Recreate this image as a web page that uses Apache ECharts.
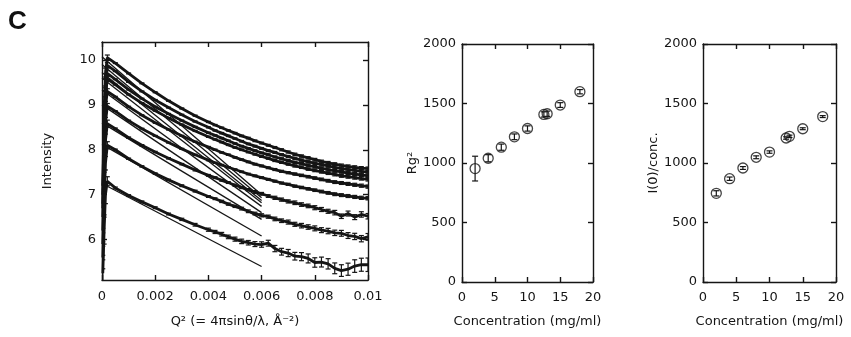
<!DOCTYPE html>
<html><head><meta charset="utf-8">
<script src="https://cdn.jsdelivr.net/npm/echarts@6/dist/echarts.min.js"></script>
<style>html,body{margin:0;padding:0;background:#fff;}#c{width:851px;height:337px;}</style>
</head><body><div id="c"></div>
<script>
// ---------- Data ----------
const qValues = [0.00003, 0.00008, 0.00013, 0.0002, 0.0005, 0.001, 0.0015, 0.002, 0.0025, 0.003, 0.0035, 0.004,
  0.00425, 0.0045, 0.00475, 0.005, 0.00525, 0.0055, 0.00575, 0.006, 0.00625, 0.0065, 0.00675, 0.007,
  0.00725, 0.0075, 0.00775, 0.008, 0.00825, 0.0085, 0.00875, 0.009, 0.00925, 0.0095, 0.00975, 0.01];

const curveC2 = [5.25, 6.2, 7.0, 7.3, 7.15, 6.98, 6.84, 6.71, 6.57, 6.45, 6.33, 6.22,
  6.17, 6.12, 6.06, 6.01, 5.96, 5.93, 5.90, 5.89, 5.92, 5.80, 5.73, 5.70, 5.63, 5.62, 5.58, 5.49, 5.50, 5.46, 5.36, 5.31, 5.34, 5.41, 5.44, 5.44];
const curveC4 = [5.6, 6.8, 7.7, 8.1, 8.0, 7.8, 7.63, 7.47, 7.33, 7.2, 7.08, 6.96,
  6.91, 6.85, 6.79, 6.74, 6.69, 6.63, 6.58, 6.54, 6.51, 6.46, 6.42, 6.39, 6.34, 6.31, 6.28, 6.25, 6.21, 6.19, 6.15, 6.14, 6.09, 6.07, 6.02, 6.06];
const curveC6 = [5.9, 7.3, 8.2, 8.58, 8.47, 8.27, 8.1, 7.95, 7.81, 7.68, 7.55, 7.43,
  7.38, 7.32, 7.27, 7.21, 7.16, 7.11, 7.06, 7.02, 6.97, 6.93, 6.89, 6.85, 6.82, 6.78, 6.75, 6.71, 6.67, 6.63, 6.6, 6.52, 6.58, 6.5, 6.56, 6.52];
const curveC8 = [6.2, 7.7, 8.6, 8.97, 8.86, 8.65, 8.47, 8.31, 8.16, 8.02, 7.89, 7.77,
  7.71, 7.66, 7.61, 7.56, 7.51, 7.46, 7.42, 7.38, 7.34, 7.30, 7.26, 7.23, 7.19, 7.16, 7.13, 7.10, 7.07, 7.04, 7.01, 6.99, 6.97, 6.95, 6.93, 6.92];
const curveC10 = [6.5, 8.0, 8.95, 9.3, 9.18, 8.96, 8.77, 8.6, 8.45, 8.31, 8.18, 8.06,
  8.0, 7.94, 7.89, 7.83, 7.78, 7.73, 7.68, 7.64, 7.60, 7.56, 7.52, 7.49, 7.46, 7.43, 7.40, 7.37, 7.34, 7.31, 7.28, 7.26, 7.24, 7.22, 7.20, 7.18];
const curveC12 = [6.7, 8.3, 9.2, 9.58, 9.45, 9.23, 9.04, 8.87, 8.71, 8.56, 8.42, 8.29,
  8.23, 8.17, 8.11, 8.05, 8.0, 7.95, 7.9, 7.85, 7.81, 7.76, 7.72, 7.68, 7.64, 7.61, 7.57, 7.54, 7.51, 7.48, 7.45, 7.42, 7.4, 7.38, 7.36, 7.34];
const curveC13 = [6.8, 8.4, 9.3, 9.7, 9.57, 9.34, 9.14, 8.96, 8.8, 8.65, 8.51, 8.38,
  8.32, 8.26, 8.2, 8.14, 8.08, 8.03, 7.98, 7.93, 7.89, 7.84, 7.8, 7.76, 7.72, 7.69, 7.65, 7.62, 7.59, 7.56, 7.53, 7.51, 7.48, 7.46, 7.44, 7.42];
const curveC15 = [7.0, 8.6, 9.5, 9.88, 9.75, 9.51, 9.3, 9.11, 8.94, 8.78, 8.63, 8.5,
  8.43, 8.37, 8.31, 8.25, 8.19, 8.13, 8.08, 8.03, 7.98, 7.94, 7.89, 7.85, 7.81, 7.77, 7.73, 7.7, 7.67, 7.64, 7.61, 7.58, 7.56, 7.54, 7.52, 7.5];
const curveC18 = [7.2, 8.8, 9.7, 10.05, 9.93, 9.7, 9.48, 9.28, 9.09, 8.92, 8.76, 8.62,
  8.55, 8.49, 8.43, 8.37, 8.31, 8.26, 8.2, 8.15, 8.1, 8.05, 8.0, 7.95, 7.9, 7.86, 7.82, 7.78, 7.74, 7.71, 7.68, 7.65, 7.63, 7.61, 7.59, 7.58];

const errC2 = [0.3, 0.3, 0.2, 0.1, 0.02, 0.02, 0.02, 0.02, 0.02, 0.025, 0.03, 0.035,
  0.035, 0.04, 0.04, 0.045, 0.05, 0.05, 0.055, 0.06, 0.065, 0.07, 0.075, 0.08, 0.085, 0.09, 0.1, 0.105, 0.11, 0.115, 0.12, 0.13, 0.135, 0.14, 0.145, 0.15];
const errC4 = [0.25, 0.25, 0.15, 0.08, 0.015, 0.015, 0.015, 0.015, 0.015, 0.02, 0.02, 0.02,
  0.02, 0.025, 0.025, 0.025, 0.03, 0.03, 0.03, 0.035, 0.035, 0.04, 0.04, 0.045, 0.045, 0.05, 0.05, 0.055, 0.055, 0.06, 0.06, 0.065, 0.065, 0.07, 0.07, 0.075];
const errC6 = [0.25, 0.25, 0.15, 0.08, 0.015, 0.015, 0.015, 0.015, 0.015, 0.015, 0.02, 0.02,
  0.02, 0.02, 0.02, 0.025, 0.025, 0.025, 0.03, 0.03, 0.03, 0.035, 0.035, 0.035, 0.04, 0.04, 0.04, 0.045, 0.045, 0.045, 0.05, 0.05, 0.055, 0.055, 0.06, 0.06];
const errHigh = [0.25, 0.2, 0.12, 0.06, 0.01, 0.01, 0.01, 0.01, 0.01, 0.012, 0.012, 0.014,
  0.014, 0.015, 0.015, 0.016, 0.017, 0.018, 0.019, 0.02, 0.021, 0.022, 0.023, 0.024, 0.025, 0.026, 0.027, 0.028, 0.029, 0.03, 0.031, 0.032, 0.033, 0.034, 0.035, 0.036];

// Guinier fit lines: value at Q=0 and Q=0.006
const fitQ = [0, 0.006];
const fitStart = [7.25, 8.12, 8.6, 9.0, 9.33, 9.6, 9.72, 9.9, 10.07];
const fitEnd = [5.40, 6.08, 6.45, 6.6, 6.74, 6.82, 6.87, 6.93, 7.0];

// Concentration panels
const concentration = [2, 4, 6, 8, 10, 12.5, 13, 15, 18];
const rg2 = [953, 1040, 1133, 1220, 1290, 1408, 1414, 1487, 1599];
const rg2Err = [104, 30, 26, 24, 22, 22, 22, 20, 18];
const i0conc = [745, 868, 958, 1048, 1092, 1210, 1224, 1288, 1390];
const i0Err = [22, 14, 12, 12, 10, 10, 10, 8, 8];

const qTicks = [0, 0.002, 0.004, 0.006, 0.008, 0.01];
const qTickLabels = ['0', '0.002', '0.004', '0.006', '0.008', '0.01'];
const intensityTicks = [6, 7, 8, 9, 10];
// ---------------------------------------------------

const curves = [curveC2, curveC4, curveC6, curveC8, curveC10, curveC12, curveC13, curveC15, curveC18];
const curveErrs = [errC2, errC4, errC6, errHigh, errHigh, errHigh, errHigh, errHigh, errHigh];

const FONT = 'DejaVu Sans';
const INK = '#151515';
const axisLineStyle = { color: INK, width: 1.4 };
const plain = v => String(v);

function errRender(capHalf, lw) {
  return function (params, api) {
    const x = api.value(0), y = api.value(1), e = api.value(2);
    const lo = api.coord([x, y - e]), hi = api.coord([x, y + e]);
    const style = { stroke: INK, lineWidth: lw, fill: null };
    return { type: 'group', children: [
      { type: 'line', shape: { x1: lo[0], y1: lo[1], x2: hi[0], y2: hi[1] }, style },
      { type: 'line', shape: { x1: lo[0] - capHalf, y1: lo[1], x2: lo[0] + capHalf, y2: lo[1] }, style },
      { type: 'line', shape: { x1: hi[0] - capHalf, y1: hi[1], x2: hi[0] + capHalf, y2: hi[1] }, style }
    ]};
  };
}

function mkX(grid, opts) {
  return Object.assign({
    gridIndex: grid, type: 'value', position: 'bottom',
    axisLine: { show: true, onZero: false, lineStyle: axisLineStyle },
    axisTick: { show: true, inside: true, length: 5, lineStyle: axisLineStyle },
    axisLabel: { show: true, color: INK, fontFamily: FONT, fontSize: 13, margin: 9, formatter: plain },
    splitLine: { show: false },
    nameLocation: 'middle',
    nameTextStyle: { color: INK, fontFamily: FONT, fontSize: 13 }
  }, opts);
}
function mkY(grid, opts) {
  return Object.assign({
    gridIndex: grid, type: 'value', position: 'left',
    axisLine: { show: true, onZero: false, lineStyle: axisLineStyle },
    axisTick: { show: true, inside: true, length: 5, lineStyle: axisLineStyle },
    axisLabel: { show: true, color: INK, fontFamily: FONT, fontSize: 13, margin: 6, formatter: plain },
    splitLine: { show: false },
    nameLocation: 'middle',
    nameTextStyle: { color: INK, fontFamily: FONT, fontSize: 13 }
  }, opts);
}

const xAxes = [
  mkX(0, { min: 0, max: 0.01, name: 'Q² (= 4πsinθ/λ, Å⁻²)', nameGap: 35,
    axisTick: { show: true, inside: true, length: 5, lineStyle: axisLineStyle, customValues: qTicks },
    axisLabel: { show: true, color: INK, fontFamily: FONT, fontSize: 13, margin: 10, customValues: qTicks,
      formatter: v => qTickLabels[Math.round(v / 0.002)] } }),
  mkX(0, { min: 0, max: 0.01, position: 'top',
    axisTick: { show: true, inside: true, length: 5, lineStyle: axisLineStyle, customValues: qTicks },
    axisLabel: { show: false } }),
  mkX(1, { min: 0, max: 20, interval: 5, name: 'Concentration (mg/ml)', nameGap: 33 }),
  mkX(1, { min: 0, max: 20, interval: 5, position: 'top', axisLabel: { show: false } }),
  mkX(2, { min: 0, max: 20, interval: 5, name: 'Concentration (mg/ml)', nameGap: 33 }),
  mkX(2, { min: 0, max: 20, interval: 5, position: 'top', axisLabel: { show: false } })
];
const yAxes = [
  mkY(0, { min: 5.1, max: 10.4, name: 'Intensity', nameGap: 48,
    axisTick: { show: true, inside: true, length: 5, lineStyle: axisLineStyle, customValues: intensityTicks },
    axisLabel: { show: true, color: INK, fontFamily: FONT, fontSize: 13, margin: 6, customValues: intensityTicks, formatter: plain } }),
  mkY(0, { min: 5.1, max: 10.4, position: 'right',
    axisTick: { show: true, inside: true, length: 5, lineStyle: axisLineStyle, customValues: intensityTicks },
    axisLabel: { show: false } }),
  mkY(1, { min: 0, max: 2000, interval: 500, name: 'Rg²', nameGap: 43 }),
  mkY(1, { min: 0, max: 2000, interval: 500, position: 'right', axisLabel: { show: false } }),
  mkY(2, { min: 0, max: 2000, interval: 500, name: 'I(0)/conc.', nameGap: 43 }),
  mkY(2, { min: 0, max: 2000, interval: 500, position: 'right', axisLabel: { show: false } })
];

const series = [];
curves.forEach((vals, k) => {
  series.push({
    type: 'line', xAxisIndex: 0, yAxisIndex: 0, symbol: 'none', silent: true,
    lineStyle: { color: INK, width: 2.8 },
    data: qValues.map((q, i) => [q, vals[i]]), z: 3
  });
  series.push({
    type: 'custom', xAxisIndex: 0, yAxisIndex: 0, clip: true, silent: true,
    renderItem: errRender(2.5, 1.2),
    encode: { x: 0, y: 1 },
    data: qValues.map((q, i) => [q, vals[i], curveErrs[k][i]]), z: 4
  });
  series.push({
    type: 'line', xAxisIndex: 0, yAxisIndex: 0, symbol: 'none', silent: true,
    lineStyle: { color: INK, width: 1.3 },
    data: [[fitQ[0], fitStart[k]], [fitQ[1], fitEnd[k]]], z: 5
  });
});

function scatterPanel(xi, yi, vals, errs) {
  series.push({
    type: 'custom', xAxisIndex: xi, yAxisIndex: yi, silent: true,
    renderItem: errRender(3, 1.2), encode: { x: 0, y: 1 },
    data: concentration.map((c, i) => [c, vals[i], errs[i]]), z: 4
  });
  series.push({
    type: 'scatter', xAxisIndex: xi, yAxisIndex: yi, silent: true,
    symbol: 'circle', symbolSize: 10,
    itemStyle: { color: 'rgba(0,0,0,0)', borderColor: INK, borderWidth: 1.3 },
    data: concentration.map((c, i) => [c, vals[i]]), z: 5
  });
}
scatterPanel(2, 2, rg2, rg2Err);
scatterPanel(4, 4, i0conc, i0Err);

const chart = echarts.init(document.getElementById('c'), null, { renderer: 'canvas' });
chart.setOption({
  animation: false,
  backgroundColor: '#ffffff',
  grid: [
    { left: 102, top: 42, width: 266, height: 238 },
    { left: 462, top: 44, width: 131, height: 238 },
    { left: 703, top: 44, width: 133, height: 238 }
  ],
  xAxis: xAxes,
  yAxis: yAxes,
  series: series,
  graphic: [{ type: 'text', left: 8, top: 9,
    style: { text: 'C', font: 'bold 26px "Liberation Sans", Arial, sans-serif', fill: '#111' } }]
});
</script>
</body></html>
